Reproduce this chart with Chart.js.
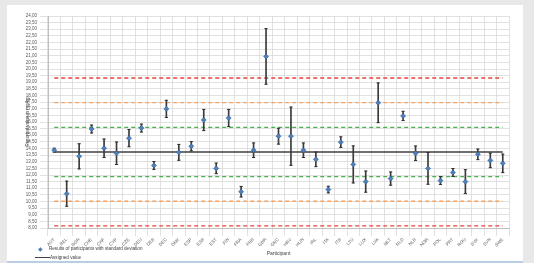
<!DOCTYPE html>
<html>
<head>
<meta charset="utf-8">
<script src="https://cdn.jsdelivr.net/npm/chart.js@4.4.1/dist/chart.umd.min.js"></script>
<style>
  html, body { margin: 0; padding: 0; width: 534px; height: 263px; overflow: hidden; background: #e8e8e8; font-family: "Liberation Sans", Arial, sans-serif; }
  #panel { position: absolute; left: 7px; top: 5px; width: 516px; height: 256px; background: #fff; border-bottom: 2px solid #b9cde5; }
  #chart { position: absolute; left: 0; top: 0; }
  .lg { position: absolute; font-size: 4.6px; color: #404040; white-space: nowrap; line-height: 6px; }
</style>
</head>
<body>
<div id="panel">
  <canvas id="chart" width="516" height="256"></canvas>
  <div class="lg" style="left:31px;top:241px;"><span style="color:#4f81bd;font-size:6px;">&#9670;</span></div>
  <div class="lg" style="left:42px;top:241px;">Results of participants with standard deviation</div>
  <div style="position:absolute;left:28px;top:251.5px;width:15px;height:1.5px;background:#404040;"></div>
  <div class="lg" style="left:43px;top:249.5px;">Assigned value</div>
</div>
<script>
// Participants
const participants = ['AUT', 'BEL', 'BGR', 'CHE', 'CHF', 'CYP', 'CZE', 'DEU', 'DEB', 'DEC',
  'DNK', 'ESP', 'ESB', 'EST', 'FIN', 'FRA', 'FRB', 'GBR', 'GRC', 'HRV', 'HUN', 'IRL', 'ITA',
  'ITB', 'LTU', 'LUX', 'LVA', 'MLT', 'NLD', 'NLB', 'NOR', 'POL', 'PRT', 'ROU', 'SVK', 'SVN', 'SWE'];

// Reported results and their standard deviations
const results = [13.87, 10.59, 13.41, 15.47, 14.02, 13.64, 14.78, 15.54, 12.72, 16.99,
  13.71, 14.17, 16.15, 12.50, 16.30, 10.74, 13.87, 20.95, 14.93, 14.93, 13.87, 13.18, 10.90,
  14.48, 12.80, 11.50, 17.45, 11.73, 16.46, 13.64, 12.50, 11.58, 12.19, 11.50, 13.56, 13.10, 12.88];
const stdDevs = [0.15, 0.95, 0.95, 0.3, 0.7, 0.85, 0.65, 0.3, 0.3, 0.65,
  0.6, 0.35, 0.8, 0.4, 0.65, 0.4, 0.55, 2.1, 0.6, 2.2, 0.55, 0.55, 0.25,
  0.4, 1.4, 0.8, 1.5, 0.5, 0.35, 0.55, 1.2, 0.3, 0.3, 0.9, 0.4, 0.55, 0.7];

// Assigned value and limits
const assignedValue = 13.74;
const greenLimits = [15.60, 11.88];
const orangeLimits = [17.46, 10.02];
const redLimits = [19.32, 8.16];

// y axis
const yMin = 8;
const yMax = 24;
const yStep = 0.5;

const flat = (v) => participants.map(() => v);
const limitLine = (v, color) => ({
  type: 'line', data: flat(v), borderColor: color, borderWidth: 1.3,
  borderDash: [4, 3], pointRadius: 0, fill: false, order: 4
});

new Chart(document.getElementById('chart'), {
  data: {
    labels: participants,
    datasets: [
      {
        type: 'line', data: results, showLine: false, pointStyle: 'rectRot', pointRadius: 2.5,
        backgroundColor: '#4f81bd', borderColor: '#2c5a8c', borderWidth: 0.6, order: 0
      },
      {
        type: 'line', data: results.map((v, i) => v + stdDevs[i]), showLine: false,
        pointStyle: 'line', pointRadius: 1.6, borderColor: '#303030', borderWidth: 1, order: 1
      },
      {
        type: 'line', data: results.map((v, i) => v - stdDevs[i]), showLine: false,
        pointStyle: 'line', pointRadius: 1.6, borderColor: '#303030', borderWidth: 1, order: 1
      },
      {
        type: 'bar', data: results.map((v, i) => [v - stdDevs[i], v + stdDevs[i]]),
        backgroundColor: '#3a3a3a', barThickness: 1, order: 2
      },
      {
        type: 'line', data: flat(assignedValue), borderColor: '#404040', borderWidth: 1.6,
        pointRadius: 0, fill: false, order: 3
      },
      limitLine(greenLimits[0], '#4caf50'),
      limitLine(greenLimits[1], '#4caf50'),
      limitLine(orangeLimits[0], '#f4a460'),
      limitLine(orangeLimits[1], '#f4a460'),
      limitLine(redLimits[0], '#e8413c'),
      limitLine(redLimits[1], '#e8413c')
    ]
  },
  options: {
    responsive: false,
    animation: false,
    layout: { padding: { left: 18, right: 14, top: 11, bottom: 4 } },
    plugins: { legend: { display: false }, tooltip: { enabled: false } },
    scales: {
      x: {
        grid: { color: '#d9d9d9', lineWidth: 0.8, offset: true },
        border: { color: '#bfbfbf' },
        ticks: { color: '#595959', font: { size: 4.5 }, minRotation: 45, maxRotation: 45, autoSkip: false, padding: 1 },
        title: { display: true, text: 'Participant', color: '#404040', font: { size: 5 }, padding: { top: 1, bottom: 0 } },
        afterFit: (s) => { s.height = 29; }
      },
      y: {
        min: yMin, max: yMax,
        grid: { color: '#d9d9d9', lineWidth: 0.8 },
        border: { color: '#bfbfbf' },
        ticks: {
          stepSize: yStep, autoSkip: false, color: '#595959', font: { size: 4.5 }, padding: 3,
          callback: (v) => v.toFixed(2).replace('.', ',')
        },
        title: { display: true, text: 'Reported value in mg/kg', color: '#404040', font: { size: 4.5 }, padding: { top: 0, bottom: 1 } },
        afterFit: (s) => { s.width = 23; }
      }
    }
  }
});
</script>
</body>
</html>
